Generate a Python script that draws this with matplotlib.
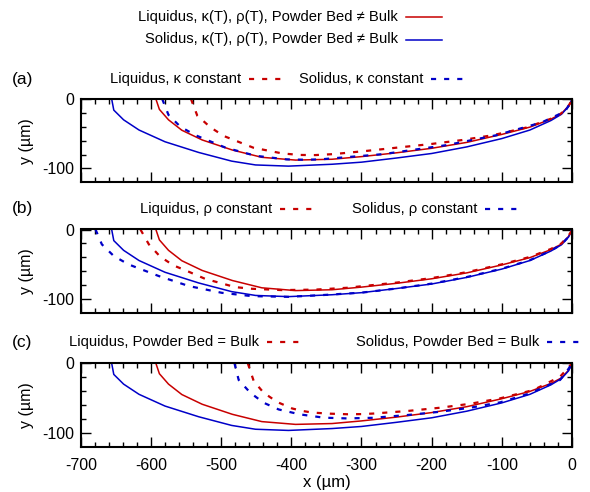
import numpy as np
import matplotlib.pyplot as plt
from matplotlib.lines import Line2D
from matplotlib.ticker import MultipleLocator, FixedLocator

plt.rcParams['font.family'] = ['Liberation Sans', 'DejaVu Sans']
plt.rcParams['axes.unicode_minus'] = False

red = '#c80000'
blue = '#0000c8'

# melt pool boundaries, x and y in um
# full model: k(T), rho(T), powder bed != bulk (same in every panel)
liq_x = [-593, -588, -575, -556, -527, -484, -442, -394, -342, -300, -250, -200, -150, -100, -60, -30, -15, -5, -1.5, 0]
liq_y = [0, -15, -30, -45, -59, -73.5, -84, -88, -86.8, -83, -77.5, -71, -62.5, -51, -40.5, -29, -21, -10, -4, 0]
sol_x = [-656, -653, -639, -617, -580, -532, -485, -451, -404, -342, -300, -250, -200, -150, -100, -60, -30, -15, -5, -1.5, 0]
sol_y = [0, -16, -30, -44.7, -61.6, -77, -89.5, -95, -96.7, -94, -91, -85, -78.5, -69, -57, -44.7, -31, -22, -11, -4, 0]

# (a) constant conductivity
ka_liq_x = [-543, -534, -515, -496, -454, -413, -388, -366, -340, -295, -247, -202, -157, -112, -64.5, -22, -8, -2, 0]
ka_liq_y = [0, -24, -41, -53.4, -70.2, -78.4, -80.6, -80.8, -79.4, -75, -69.8, -65, -59.2, -52, -41, -25.5, -15, -5, 0]
ka_sol_x = [-584, -575, -558, -537, -494, -451, -407, -380, -359, -269, -178.5, -107, -43, -10, -2, 0]
ka_sol_y = [0, -23, -40, -52, -70, -81.8, -87, -87.5, -87, -79.4, -66.4, -52, -33.7, -18, -5, 0]

# (b) constant density
rho_liq_x = [-615, -603, -587, -568, -546, -523, -480, -456, -413, -366, -321, -250, -200, -150, -100, -60, -30, -15, -5, -1.5, 0]
rho_liq_y = [0, -21.4, -39, -51.7, -60.9, -71, -83, -85.4, -87.3, -86.6, -84, -76.5, -70, -61.5, -50.2, -39.5, -28, -20, -9, -3.5, 0]
rho_sol_x = [-679, -670, -653, -632, -589, -546, -499, -456, -404, -356, -300, -250, -200, -150, -100, -60, -30, -15, -5, -1.5, 0]
rho_sol_y = [0, -21.4, -38.2, -50.3, -67, -81.5, -91.2, -96, -97, -94.5, -91, -85, -78, -68.5, -56.5, -44.2, -30.5, -21.5, -10.5, -4, 0]

# (c) powder bed = bulk
pb_liq_x = [-462, -453.6, -439.5, -420, -399, -385, -370, -344, -320, -300, -283, -235.5, -188, -145, -102.5, -55, -17, -5, 0]
pb_liq_y = [0, -25.5, -42.4, -55.8, -65, -68.5, -71, -72.6, -73.4, -73.2, -72.4, -68.8, -64, -58.3, -50.5, -38.5, -19.3, -6, 0]
pb_sol_x = [-481, -475, -458.5, -439.5, -418, -387.6, -354, -321, -283, -235.5, -188, -145, -102.5, -60, -17, -5, 0]
pb_sol_y = [0, -24, -42.4, -56.8, -66.5, -73.6, -78.3, -79.4, -78.5, -74.6, -69.8, -64, -56.3, -43.3, -24, -8, 0]

panels = [
    ('(a)', ka_liq_x, ka_liq_y, ka_sol_x, ka_sol_y,
     'Liquidus, \u03ba constant', 'Solidus, \u03ba constant'),
    ('(b)', rho_liq_x, rho_liq_y, rho_sol_x, rho_sol_y,
     'Liquidus, \u03c1 constant', 'Solidus, \u03c1 constant'),
    ('(c)', pb_liq_x, pb_liq_y, pb_sol_x, pb_sol_y,
     'Liquidus, Powder Bed = Bulk', 'Solidus, Powder Bed = Bulk'),
]

W, H = 590.0, 492.0
fig = plt.figure(figsize=(W/100, H/100), dpi=100)

def fx(px):
    return px/W

def fy(py):
    return 1 - py/H

dash = (2.3, 3.6)

def key(text, x_end, y, color, dashed):
    fig.text(fx(x_end), fy(y), text, ha='right', va='center', fontsize=10.6)
    x0 = x_end + 8
    ln = Line2D([fx(x0), fx(x0 + 36)], [fy(y), fy(y)], color=color,
                lw=1.6 if dashed else 1.1, transform=fig.transFigure)
    if dashed:
        ln.set_dashes(dash)
    fig.add_artist(ln)

# shared key at the top
key('Liquidus, \u03ba(T), \u03c1(T), Powder Bed \u2260 Bulk', 398, 17, red, False)
key('Solidus, \u03ba(T), \u03c1(T), Powder Bed \u2260 Bulk', 398, 39.5, blue, False)

tops = [99, 229.5, 363.3]
key_rows = [(79, 241, 423), (209, 272, 477), (342, 259, 539)]

for i, (lab, lx, ly, sx, sy, t1, t2) in enumerate(panels):
    top = tops[i]
    ax = fig.add_axes([fx(80.8), fy(top + 83.3), (572 - 80.8)/W, 83.3/H])
    ax.plot(liq_x, liq_y, color=red, lw=1.1)
    ax.plot(sol_x, sol_y, color=blue, lw=1.1)
    ax.plot(lx, ly, color=red, lw=1.6, dashes=dash)
    ax.plot(sx, sy, color=blue, lw=1.6, dashes=dash)
    ax.set_xlim(-700, 0)
    ax.set_ylim(-120, 0)
    ax.xaxis.set_major_locator(MultipleLocator(100))
    ax.xaxis.set_minor_locator(MultipleLocator(20))
    ax.yaxis.set_major_locator(FixedLocator([-100, 0]))
    ax.yaxis.set_minor_locator(FixedLocator([-80, -60, -40, -20]))
    ax.tick_params(which='both', direction='in', top=True, right=True, width=1.0)
    ax.tick_params(which='major', length=7, labelsize=11.5)
    ax.tick_params(axis='x', which='major', pad=8)
    ax.tick_params(axis='y', which='major', pad=5)
    ax.tick_params(which='minor', length=3.5)
    for s in ax.spines.values():
        s.set_linewidth(1.5)
    ax.set_ylabel('y (\u00b5m)', fontsize=11.5, labelpad=6)
    if i < 2:
        ax.set_xticklabels([])
    else:
        ax.set_xlabel('x (\u00b5m)', fontsize=12, labelpad=2)

    yrow, e1, e2 = key_rows[i]
    fig.text(fx(12), fy(yrow), lab, ha='left', va='center', fontsize=12.5)
    key(t1, e1, yrow, red, True)
    key(t2, e2, yrow, blue, True)

fig.savefig('out.png', dpi=100)
